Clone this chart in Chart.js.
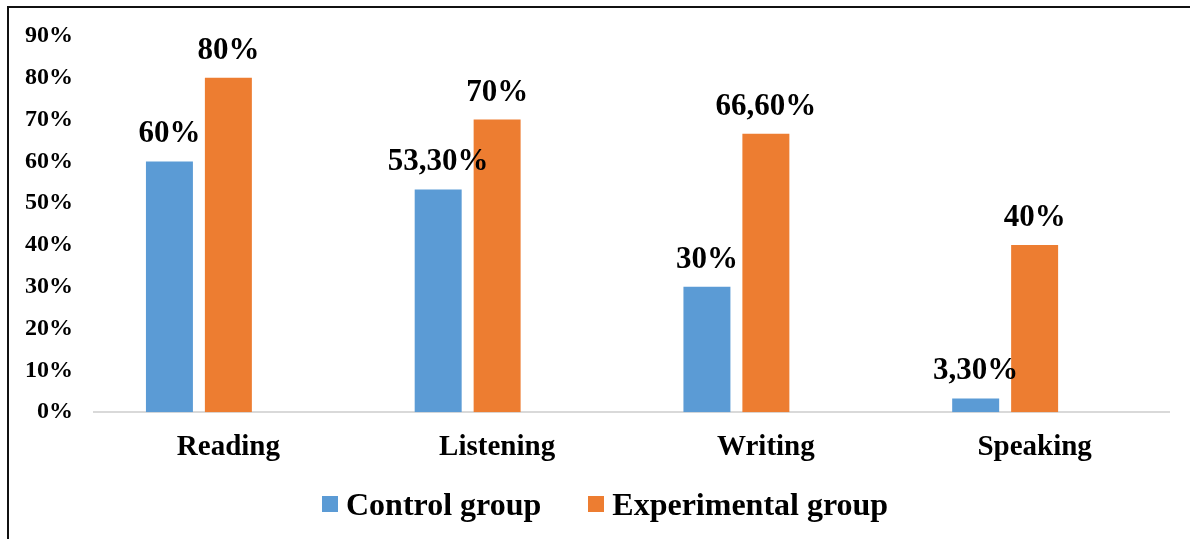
<!DOCTYPE html>
<html>
<head>
<meta charset="utf-8">
<script src="https://cdn.jsdelivr.net/npm/chart.js@4.4.1/dist/chart.umd.min.js"></script>
<style>
  html, body { margin: 0; padding: 0; background: #fff; }
  #wrap { position: relative; width: 1190px; height: 539px; overflow: hidden; }
  #frame {
    position: absolute; left: 7px; top: 6px; right: -4px; bottom: -4px;
    border-left: 2px solid #111; border-top: 2px solid #111;
    pointer-events: none;
  }
  #legend {
    position: absolute; left: 322px; top: 486px;
    display: flex; align-items: center;
    font: bold 32px "Liberation Serif", "Times New Roman", serif;
    line-height: 36px; color: #000;
  }
  #legend .item { display: flex; align-items: center; margin-right: 47px; }
  #legend .box { width: 16px; height: 16px; margin-right: 8px; }
</style>
</head>
<body>
<div id="wrap">
  <canvas id="skillsChart" width="1190" height="539"></canvas>
  <div id="legend"></div>
  <div id="frame"></div>
</div>
<script>
// Skill categories and group scores (%)
const categories = ['Reading', 'Listening', 'Writing', 'Speaking'];
const controlGroup = [60, 53.3, 30, 3.3];
const experimentalGroup = [80, 70, 66.6, 40];
const yTicks = [0, 10, 20, 30, 40, 50, 60, 70, 80, 90];

const serif = '"Liberation Serif", "Times New Roman", serif';

// 53.3 -> "53,30%", 60 -> "60%"
function formatPct(v) {
    if (Number.isInteger(v)) return v + '%';
    return v.toFixed(2).replace('.', ',') + '%';
}

// Value labels above each bar
const barLabels = {
    id: 'barLabels',
    afterDatasetsDraw(chart) {
        const ctx = chart.ctx;
        ctx.save();
        ctx.font = 'bold 31px ' + serif;
        ctx.fillStyle = '#000';
        ctx.textAlign = 'center';
        ctx.textBaseline = 'alphabetic';
        chart.data.datasets.forEach((ds, i) => {
            const meta = chart.getDatasetMeta(i);
            if (meta.hidden || !ds.label) return;
            meta.data.forEach((bar, j) => {
                const v = ds.data[j];
                if (v == null) return;
                ctx.fillText(formatPct(v), bar.x, bar.y - 19);
            });
        });
        ctx.restore();
    }
};

const ctx = document.getElementById('skillsChart').getContext('2d');
const skillsChart = new Chart(ctx, {
    type: 'bar',
    data: {
        labels: categories,
        datasets: [
            {
                label: 'Control group',
                data: controlGroup,
                backgroundColor: '#5B9BD5'
            },
            {
                label: 'Experimental group',
                data: experimentalGroup,
                backgroundColor: '#ED7D31'
            },
            {
                // empty third series, keeps bars shifted like the source sheet
                label: '',
                data: [],
                backgroundColor: 'rgba(0,0,0,0)'
            }
        ]
    },
    options: {
        responsive: false,
        animation: false,
        categoryPercentage: 0.658,
        barPercentage: 0.797,
        layout: {
            padding: { top: 36, left: 4, right: 21, bottom: 56 }
        },
        plugins: {
            legend: { display: false },
            tooltip: { enabled: false }
        },
        scales: {
            x: {
                grid: { display: false, drawTicks: false },
                border: { display: true, color: '#D9D9D9', width: 2 },
                ticks: {
                    color: '#000',
                    padding: 18,
                    font: { family: serif, size: 29, weight: 'bold' }
                }
            },
            y: {
                min: 0,
                max: 90,
                afterBuildTicks: (scale) => {
                    scale.ticks = yTicks.map(v => ({ value: v }));
                },
                grid: { display: false, drawTicks: false },
                border: { display: false },
                ticks: {
                    color: '#000',
                    padding: 21,
                    font: { family: serif, size: 24, weight: 'bold' },
                    callback: (v) => v + '%'
                }
            }
        }
    },
    plugins: [barLabels]
});

// Legend built from the chart's datasets
const legendEl = document.getElementById('legend');
skillsChart.data.datasets.forEach(ds => {
    if (!ds.label) return;
    const item = document.createElement('div');
    item.className = 'item';
    const box = document.createElement('span');
    box.className = 'box';
    box.style.background = ds.backgroundColor;
    const text = document.createElement('span');
    text.textContent = ds.label;
    item.appendChild(box);
    item.appendChild(text);
    legendEl.appendChild(item);
});
</script>
</body>
</html>
